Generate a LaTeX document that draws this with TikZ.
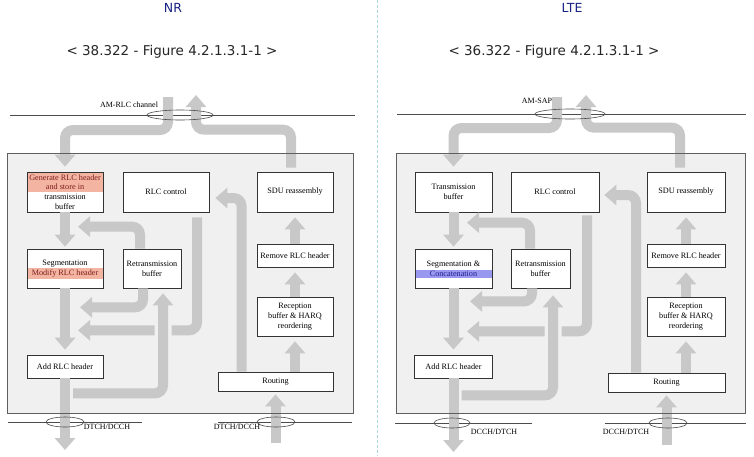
\documentclass[tikz,border=0pt]{standalone}
\usepackage{fontspec}
\setmainfont{Liberation Serif}
\newfontfamily\titlefont{DejaVu Sans}
\usetikzlibrary{arrows.meta, calc}

\definecolor{flowgray}{RGB}{200,200,200}
\definecolor{panelbg}{RGB}{240,240,240}
\definecolor{edgegray}{RGB}{95,95,95}
\definecolor{bandpink}{RGB}{244,180,162}
\definecolor{bandblue}{RGB}{152,152,240}
\definecolor{redtxt}{RGB}{125,30,30}
\definecolor{bluetxt}{RGB}{30,30,140}
\definecolor{navy}{RGB}{25,35,130}
\definecolor{divcol}{RGB}{170,215,215}

\begin{document}
\begin{tikzpicture}[x=1pt, y=-1pt,
    box/.style={draw=black!80, fill=white, line width=0.7pt, align=center, inner sep=1pt,
        font=\fontsize{8.2}{9.8}\selectfont},
    band/.style n args={3}{path picture={\fill[#1] ([yshift=#2]path picture bounding box.west)
        rectangle ([yshift=#3]path picture bounding box.east);}},
    flow/.style={draw=flowgray, line width=10pt, rounded corners=8pt,
        -{Triangle[width=20pt,length=12pt]}},
    cut/.style={draw=panelbg, line width=17pt, rounded corners=8pt},
    chan/.style={draw=black!70, line width=0.6pt},
    paneledge/.style={draw=edgegray, line width=0.9pt},
    lbl/.style={font=\fontsize{8}{9}\selectfont},
    hdr/.style={font=\titlefont\fontsize{12.5}{14}\selectfont, text=navy},
    ttl/.style={font=\titlefont\fontsize{13.5}{15}\selectfont, text=black!85},
    divline/.style={draw=divcol, line width=0.8pt, dash pattern=on 3pt off 2pt}
]
    \useasboundingbox (0,0) rectangle (754,456);
    \fill[white] (0,0) rectangle (754,456);
    \draw[divline] (377,0) -- (377,456);

    % NR
    \node[hdr] (nrhdr) at (173,8) {NR};
    \node[ttl] (nrttl) at (172,52) {< 38.322 - Figure 4.2.1.3.1-1 >};
    \draw[chan] (10,115) -- (355,115);
    \draw[chan] (8,422) -- (142,422);
    \draw[chan] (218,422) -- (352,422);
    \fill[panelbg] (7,153) rectangle (353,413);

    \node[box, minimum width=76, minimum height=40, band={bandpink}{20pt}{0pt}] (ngen) at (65,192)
        {\textcolor{redtxt}{Generate RLC header}\\\textcolor{redtxt}{and store in}\\transmission\\buffer};
    \node[box, minimum width=86, minimum height=40] (nctl) at (166,192) {RLC control};
    \node[box, minimum width=76, minimum height=40] (nsdu) at (295,192) {SDU reassembly};
    \node[box, minimum width=76, minimum height=39, band={bandpink}{1pt}{-10pt}] (nseg) at (65,268.5)
        {Segmentation\\\textcolor{redtxt}{Modify RLC header}};
    \node[box, minimum width=58, minimum height=39] (nretx) at (152,268.5) {Retransmission\\buffer};
    \node[box, minimum width=76, minimum height=23] (nrem) at (295,255.5) {Remove RLC header};
    \node[box, minimum width=76, minimum height=39] (nrcv) at (295,316.5)
        {Reception\\buffer \& HARQ\\reordering};
    \node[box, minimum width=76, minimum height=23] (nadd) at (65,366.5) {Add RLC header};
    \node[box, minimum width=115, minimum height=19] (nrout) at (275.5,381.5) {Routing};

    \coordinate (ntopin) at (168,97);
    \coordinate (ntopout) at (196,95);
    \coordinate (nbotin) at (275.5,443);
    \coordinate (nbotout) at (65,450);

    \draw[flow] (ntopin) -- ++(0,33) -| ([yshift=5pt]ngen.north);
    \draw[flow] ([xshift=-4pt,yshift=4pt]nsdu.north) -- ++(0,-38) -| (ntopout);
    \draw[flow] (ngen.south) -- ([yshift=2pt]nseg.north);
    \draw[flow] ([xshift=-12pt]nretx.north) -- ++(0,-22) -- ++(-62,0);
    \draw[flow] (nseg.south) -- ([yshift=5pt]nadd.north);
    \draw[flow] ([xshift=-9pt]nretx.south) -- ++(0,19) -- ++(-63,0);
    \draw[flow] ([xshift=31pt,yshift=-5pt]nctl.south) -- ++(0,113) -- ++(-119,0);
    \draw[cut] ($(nadd.south)+(8,15)$) -| ([xshift=11pt,yshift=-5pt]nretx.south);
    \draw[flow] ($(nadd.south)+(8,15)$) -| ([xshift=11pt,yshift=-5pt]nretx.south);
    \draw[flow] ([xshift=-34pt]nrout.north) |- ([xshift=6pt,yshift=-6pt]nctl.east);
    \draw[flow] (nrem.north) -- ([yshift=-5pt]nsdu.south);
    \draw[flow] (nrcv.north) -- ([yshift=-5pt]nrem.south);
    \draw[flow] (nrout.north -| nrcv.south) -- ([yshift=-5pt]nrcv.south);
    \draw[flow] (nbotin) -- ([yshift=-3pt]nrout.south);
    \draw[flow] (nadd.south) -- (nbotout);

    \draw[chan] (180,115) ellipse [x radius=33, y radius=5];
    \draw[chan] (65,422) ellipse [x radius=19, y radius=5];
    \draw[chan] (276,422) ellipse [x radius=19, y radius=5];
    \draw[paneledge] (7,153) rectangle (353,413);
    \node[lbl] (nsap) at (129,105) {AM-RLC channel};
    \node[lbl] (ndl) at (107,427) {DTCH/DCCH};
    \node[lbl] (nul) at (237,427) {DTCH/DCCH};

    % LTE
    \node[hdr] (ltehdr) at (572,8) {LTE};
    \node[ttl] (ltettl) at (554,52) {< 36.322 - Figure 4.2.1.3.1-1 >};
    \draw[chan] (397,114) -- (746,114);
    \draw[chan] (395,423) -- (532,423);
    \draw[chan] (605,423) -- (746,423);
    \fill[panelbg] (396,153) rectangle (745,413);

    \node[box, minimum width=77, minimum height=40] (ltx) at (453.5,192) {Transmission\\buffer};
    \node[box, minimum width=88, minimum height=40] (lctl) at (555,192) {RLC control};
    \node[box, minimum width=78, minimum height=40] (lsdu) at (686,192) {SDU reassembly};
    \node[box, minimum width=77, minimum height=39, band={bandblue}{-1pt}{-9.5pt}] (lseg) at (453.5,268.5)
        {Segmentation \&\\\textcolor{bluetxt}{Concatenation}};
    \node[box, minimum width=59, minimum height=39] (lretx) at (540.5,268.5) {Retransmission\\buffer};
    \node[box, minimum width=78, minimum height=23] (lrem) at (686,255.5) {Remove RLC header};
    \node[box, minimum width=78, minimum height=39] (lrcv) at (686,316.5)
        {Reception\\buffer \& HARQ\\reordering};
    \node[box, minimum width=78, minimum height=23] (ladd) at (453.5,366.5) {Add RLC header};
    \node[box, minimum width=117, minimum height=19] (lrout) at (666.5,382.5) {Routing};

    \coordinate (ltopin) at (557,97);
    \coordinate (ltopout) at (586,95);
    \coordinate (lbotin) at (666.5,445);
    \coordinate (lbotout) at (453.5,452);

    \draw[flow] (ltopin) -- ++(0,31) -| ([yshift=5pt]ltx.north);
    \draw[flow] ([xshift=-6pt,yshift=4pt]lsdu.north) -- ++(0,-40) -| (ltopout);
    \draw[flow] (ltx.south) -- ([yshift=2pt]lseg.north);
    \draw[flow] ([xshift=-10.5pt]lretx.north) -- ++(0,-26) -- ++(-63,0);
    \draw[flow] (lseg.south) -- ([yshift=5pt]ladd.north);
    \draw[flow] ([xshift=-8.5pt]lretx.south) -- ++(0,13) -- ++(-62,0);
    \draw[flow] ([xshift=32pt,yshift=-3pt]lctl.south) -- ++(0,116) -- ++(-120,0);
    \draw[cut] ($(ladd.south)+(8,17)$) -| ([xshift=12.5pt,yshift=-7pt]lretx.south);
    \draw[flow] ($(ladd.south)+(8,17)$) -| ([xshift=12.5pt,yshift=-7pt]lretx.south);
    \draw[flow] ([xshift=-30.5pt]lrout.north) |- ([xshift=5pt,yshift=-3pt]lctl.east);
    \draw[flow] (lrem.north) -- ([yshift=-5pt]lsdu.south);
    \draw[flow] (lrcv.north) -- ([yshift=-5pt]lrem.south);
    \draw[flow] (lrout.north -| lrcv.south) -- ([yshift=-5pt]lrcv.south);
    \draw[flow] (lbotin) -- ([yshift=-3pt]lrout.south);
    \draw[flow] (ladd.south) -- (lbotout);

    \draw[chan] (570,114) ellipse [x radius=35, y radius=5];
    \draw[chan] (452,423) ellipse [x radius=18, y radius=5];
    \draw[chan] (668,423) ellipse [x radius=19, y radius=5];
    \draw[paneledge] (396,153) rectangle (745,413);
    \node[lbl] (lsap) at (537,101) {AM-SAP};
    \node[lbl] (ldl) at (494,432) {DCCH/DTCH};
    \node[lbl] (lul) at (626,432) {DCCH/DTCH};
\end{tikzpicture}
\end{document}
